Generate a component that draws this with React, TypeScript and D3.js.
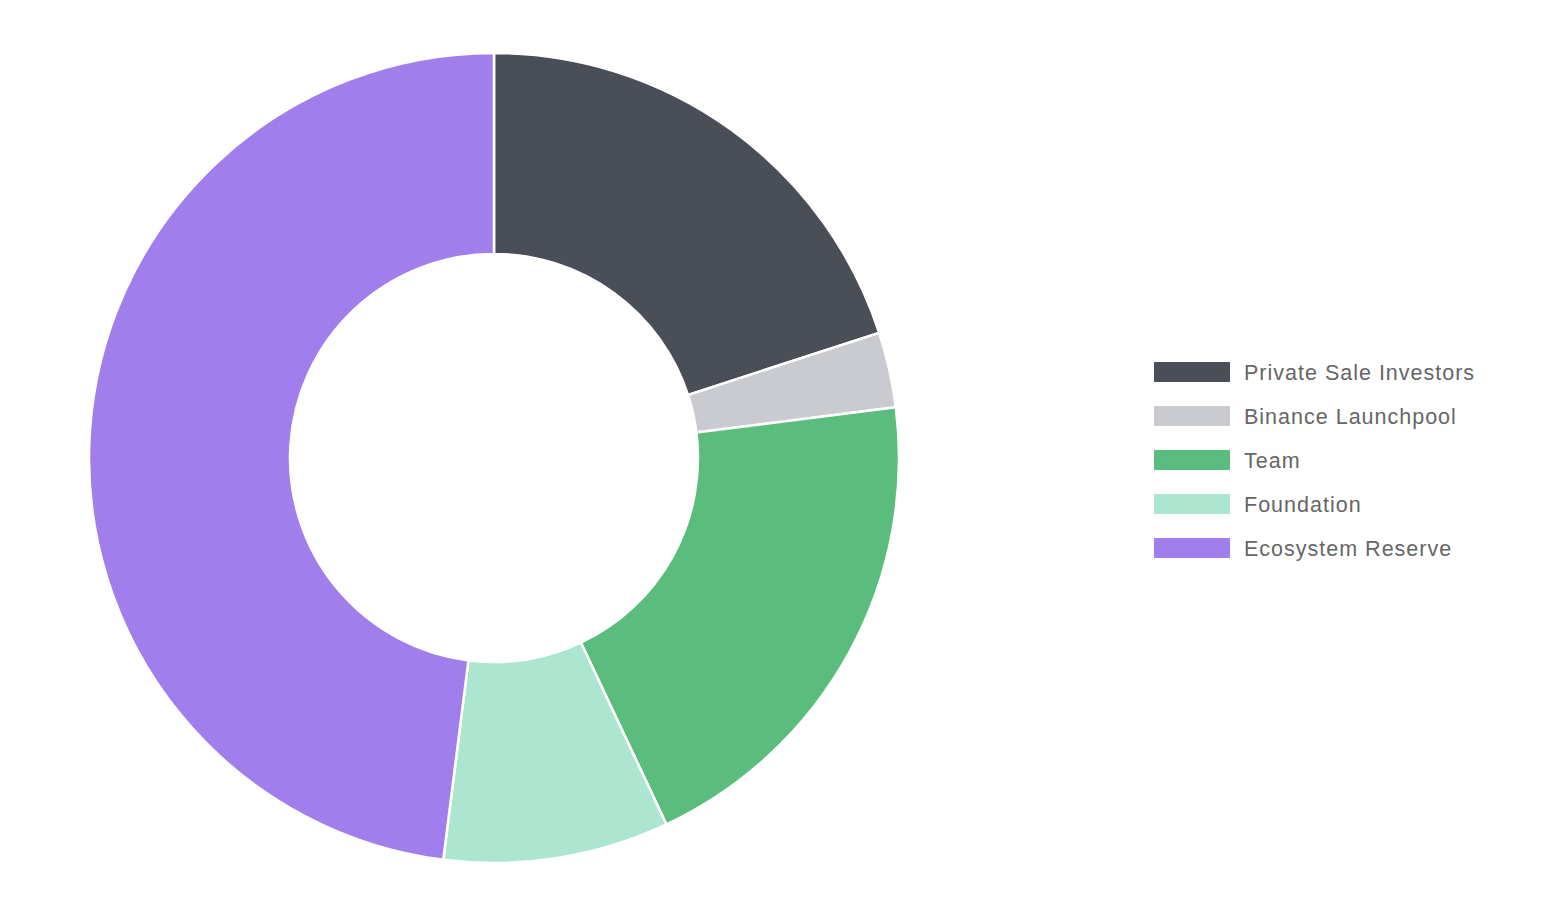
import { useEffect, useRef } from 'react'
import * as d3 from 'd3'

const LABELS = ['Private Sale Investors', 'Binance Launchpool', 'Team', 'Foundation', 'Ecosystem Reserve']
const VALUES = [20, 3, 20, 9, 48]
const COLORS = ['#4a4e57', '#c9cbd0', '#5abd7d', '#ade6d0', '#a07fed']

const W = 1544
const H = 908

export default function App() {
  const svgRef = useRef<SVGSVGElement>(null)

  useEffect(() => {
    if (!svgRef.current) return
    const svg = d3.select(svgRef.current)
    svg.selectAll('*').remove()

    const cx = 494
    const cy = 458
    const outer = 405
    const inner = 204

    const pie = d3.pie<number>().sort(null).value(d => d)
    const arc = d3.arc<d3.PieArcDatum<number>>().innerRadius(inner).outerRadius(outer)

    const g = svg.append('g').attr('transform', `translate(${cx},${cy})`)
    g.selectAll('path')
      .data(pie(VALUES))
      .join('path')
      .attr('d', arc)
      .attr('fill', (_, i) => COLORS[i])
      .attr('stroke', '#fff')
      .attr('stroke-width', 2.5)

    // Legend
    const legend = svg.append('g').attr('transform', 'translate(1154,362)')
    const row = legend.selectAll('g')
      .data(LABELS)
      .join('g')
      .attr('transform', (_, i) => `translate(0,${i * 44})`)
    row.append('rect')
      .attr('width', 76)
      .attr('height', 20)
      .attr('fill', (_, i) => COLORS[i])
    row.append('text')
      .attr('x', 90)
      .attr('y', 10)
      .attr('dy', '0.35em')
      .attr('font-family', '"Liberation Sans", Arial, sans-serif')
      .attr('font-size', 21.5)
      .attr('letter-spacing', 1)
      .attr('fill', '#666')
      .text(d => d)
  }, [])

  return (
    <svg
      ref={svgRef}
      width={W}
      height={H}
      style={{ position: 'absolute', left: 0, top: 0, background: '#fff' }}
    />
  )
}
